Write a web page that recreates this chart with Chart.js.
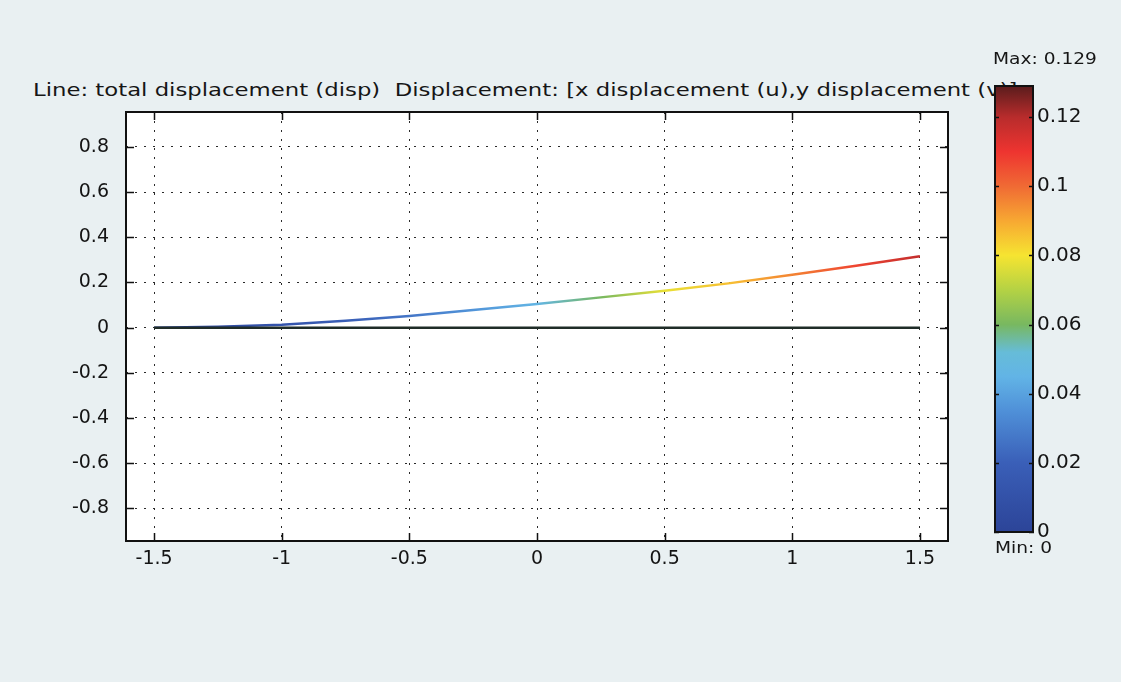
<!DOCTYPE html>
<html>
<head>
<meta charset="utf-8">
<script src="https://cdn.jsdelivr.net/npm/chart.js@4.4.0/dist/chart.umd.min.js"></script>
<style>
  html, body { margin:0; padding:0; background:#e9f0f2; width:1121px; height:682px; overflow:hidden; }
  #wrap { position:relative; width:1121px; height:682px; }
  canvas { position:absolute; }
  .txt { position:absolute; font-family:"DejaVu Sans"; color:#161616; white-space:nowrap; transform-origin:0 0; }
  #title { left:33px; top:81px; font-size:18px; line-height:18px; transform:scaleX(1.265); }
  #maxLbl { left:993px; top:52px; font-size:15px; line-height:15px; transform:scaleX(1.24); }
  #minLbl { left:995px; top:541px; font-size:15px; line-height:15px; transform:scaleX(1.24); }
</style>
</head>
<body>
<div id="wrap">
  <div class="txt" id="title">Line: total displacement (disp)&nbsp; Displacement: [x displacement (u),y displacement (v)]</div>
  <canvas id="plot" width="1121" height="682" style="left:0;top:0"></canvas>
  <canvas id="cbar" width="128" height="480" style="left:993px;top:70px"></canvas>
  <div class="txt" id="maxLbl">Max: 0.129</div>
  <div class="txt" id="minLbl">Min: 0</div>
</div>
<script>
// tick labels
const xTicks = [-1.5, -1, -0.5, 0, 0.5, 1, 1.5];
const yTicks = [-0.8, -0.6, -0.4, -0.2, 0, 0.2, 0.4, 0.6, 0.8];
const barTicks = [0, 0.02, 0.04, 0.06, 0.08, 0.1, 0.12];

// undeformed line
const baseX = [-1.5, 1.5];
const baseY = [0, 0];

// deformed line + total displacement along it
const lineX = [-1.5, -1.25, -1, -0.75, -0.5, -0.25, 0, 0.25, 0.5, 0.75, 1, 1.25, 1.5];
const lineY = [0, 0.004, 0.013, 0.03, 0.052, 0.078, 0.105, 0.134, 0.163, 0.196, 0.234, 0.274, 0.316];
const dispMag = [0, 0.006, 0.012, 0.019, 0.027, 0.036, 0.046, 0.06, 0.078, 0.086, 0.096, 0.107, 0.118];

const dispMin = 0;
const dispMax = 0.129;

// colour map (comsol rainbow-ish)
const cmapAt = [0, 0.02, 0.035, 0.045, 0.052, 0.06, 0.07, 0.08, 0.09, 0.1, 0.11, 0.12, 0.129];
const cmapCol = ['#2c4498', '#3a5fb8', '#4f90d8', '#62b4e6', '#66bcd8', '#78b860', '#b4d244', '#f6e431', '#f7a832', '#f06a34', '#ee3430', '#b82c2c', '#5a1c1c'];

function hexRgb(h) {
  return [parseInt(h.slice(1, 3), 16), parseInt(h.slice(3, 5), 16), parseInt(h.slice(5, 7), 16)];
}
function colorAt(v) {
  if (v <= cmapAt[0]) return cmapCol[0];
  for (let i = 1; i < cmapAt.length; i++) {
    if (v <= cmapAt[i]) {
      const t = (v - cmapAt[i - 1]) / (cmapAt[i] - cmapAt[i - 1]);
      const a = hexRgb(cmapCol[i - 1]), b = hexRgb(cmapCol[i]);
      const c = a.map((x, k) => Math.round(x + (b[k] - x) * t));
      return 'rgb(' + c.join(',') + ')';
    }
  }
  return cmapCol[cmapCol.length - 1];
}

const toPts = (xs, ys) => xs.map((x, i) => ({ x: x, y: ys[i] }));

// white plot area, frame and inward ticks like matlab
const framePlugin = {
  id: 'frame',
  beforeDraw(chart) {
    const a = chart.chartArea, ctx = chart.ctx;
    ctx.save();
    ctx.fillStyle = '#ffffff';
    ctx.fillRect(a.left, a.top, a.width, a.height);
    ctx.restore();
  },
  afterDraw(chart) {
    const a = chart.chartArea, ctx = chart.ctx;
    const len = chart.options.plugins.frame.tick;
    ctx.save();
    ctx.strokeStyle = '#111';
    ctx.lineWidth = 1.5;
    ctx.beginPath();
    chart.scales.x.ticks.forEach(t => {
      const px = Math.round(chart.scales.x.getPixelForValue(t.value)) + 0.5;
      ctx.moveTo(px, a.bottom); ctx.lineTo(px, a.bottom - len);
      ctx.moveTo(px, a.top); ctx.lineTo(px, a.top + len);
    });
    chart.scales.y.ticks.forEach(t => {
      const py = Math.round(chart.scales.y.getPixelForValue(t.value)) + 0.5;
      ctx.moveTo(a.left, py); ctx.lineTo(a.left + len, py);
      ctx.moveTo(a.right, py); ctx.lineTo(a.right - len, py);
    });
    ctx.stroke();
    ctx.lineWidth = 2;
    ctx.strokeRect(a.left, a.top, a.width, a.height);
    ctx.restore();
  }
};

const tickFont = { family: 'DejaVu Sans', size: 19 };

new Chart(document.getElementById('plot'), {
  type: 'scatter',
  data: {
    datasets: [{
      data: toPts(baseX, baseY),
      showLine: true,
      borderColor: '#1f2c28',
      borderWidth: 2.5,
      pointRadius: 0
    }, {
      data: toPts(lineX, lineY),
      showLine: true,
      borderWidth: 2.5,
      pointRadius: 0,
      borderColor(c) {
        const chart = c.chart;
        if (!chart.chartArea) return cmapCol[0];
        const xs = chart.scales.x;
        const x0 = xs.getPixelForValue(lineX[0]);
        const x1 = xs.getPixelForValue(lineX[lineX.length - 1]);
        const g = chart.ctx.createLinearGradient(x0, 0, x1, 0);
        lineX.forEach((x, i) => {
          g.addColorStop((xs.getPixelForValue(x) - x0) / (x1 - x0), colorAt(dispMag[i]));
        });
        return g;
      }
    }]
  },
  options: {
    responsive: false,
    animation: false,
    layout: { padding: { left: 0, top: 112, right: 173, bottom: 101 } },
    plugins: { legend: { display: false }, tooltip: { enabled: false }, frame: { tick: 8 } },
    scales: {
      x: {
        type: 'linear', min: -1.61, max: 1.61,
        afterBuildTicks: s => { s.ticks = xTicks.map(v => ({ value: v })); },
        afterFit: s => { s.height = 40; },
        grid: { color: '#2a2a2a', lineWidth: 1, drawTicks: false },
        border: { display: false, dash: [2, 7] },
        ticks: { font: tickFont, color: '#141414', padding: 7, maxRotation: 0, autoSkip: false, callback: v => String(v) }
      },
      y: {
        type: 'linear', min: -0.945, max: 0.955,
        afterBuildTicks: s => { s.ticks = yTicks.map(v => ({ value: v })); },
        afterFit: s => { s.width = 126; },
        grid: { color: '#2a2a2a', lineWidth: 1, drawTicks: false },
        border: { display: false, dash: [2, 7] },
        ticks: { font: tickFont, color: '#141414', padding: 17, autoSkip: false, callback: v => String(v) }
      }
    }
  },
  plugins: [framePlugin]
});

// colour bar
const cbarPlugin = {
  id: 'cbarFrame',
  afterDraw(chart) {
    const a = chart.chartArea, ctx = chart.ctx;
    ctx.save();
    ctx.strokeStyle = '#111';
    ctx.lineWidth = 1.5;
    ctx.beginPath();
    chart.scales.y.ticks.forEach(t => {
      const py = Math.round(chart.scales.y.getPixelForValue(t.value)) + 0.5;
      ctx.moveTo(a.left - 1, py); ctx.lineTo(a.left + 4, py);
      ctx.moveTo(a.right - 4, py); ctx.lineTo(a.right + 1, py);
    });
    ctx.stroke();
    ctx.lineWidth = 2;
    ctx.strokeRect(a.left, a.top, a.width, a.height);
    ctx.restore();
  }
};

new Chart(document.getElementById('cbar'), {
  type: 'bar',
  data: {
    labels: ['disp'],
    datasets: [{
      data: [dispMax],
      barPercentage: 1,
      categoryPercentage: 1,
      backgroundColor(c) {
        const chart = c.chart;
        if (!chart.chartArea) return cmapCol[0];
        const ys = chart.scales.y;
        const g = chart.ctx.createLinearGradient(0, ys.getPixelForValue(dispMin), 0, ys.getPixelForValue(dispMax));
        cmapAt.forEach((v, i) => g.addColorStop((v - dispMin) / (dispMax - dispMin), cmapCol[i]));
        return g;
      }
    }]
  },
  options: {
    responsive: false,
    animation: false,
    layout: { padding: { left: 2, top: 12, right: 0, bottom: 18 } },
    plugins: { legend: { display: false }, tooltip: { enabled: false } },
    scales: {
      x: { display: false },
      y: {
        position: 'right', min: dispMin, max: dispMax,
        afterBuildTicks: s => { s.ticks = barTicks.map(v => ({ value: v })); },
        afterFit: s => { s.width = 88; },
        grid: { display: false, drawTicks: false },
        border: { display: false },
        ticks: { font: { family: 'DejaVu Sans', size: 20 }, color: '#141414', padding: 4, autoSkip: false, callback: v => String(v) }
      }
    }
  },
  plugins: [cbarPlugin]
});
</script>
</body>
</html>
